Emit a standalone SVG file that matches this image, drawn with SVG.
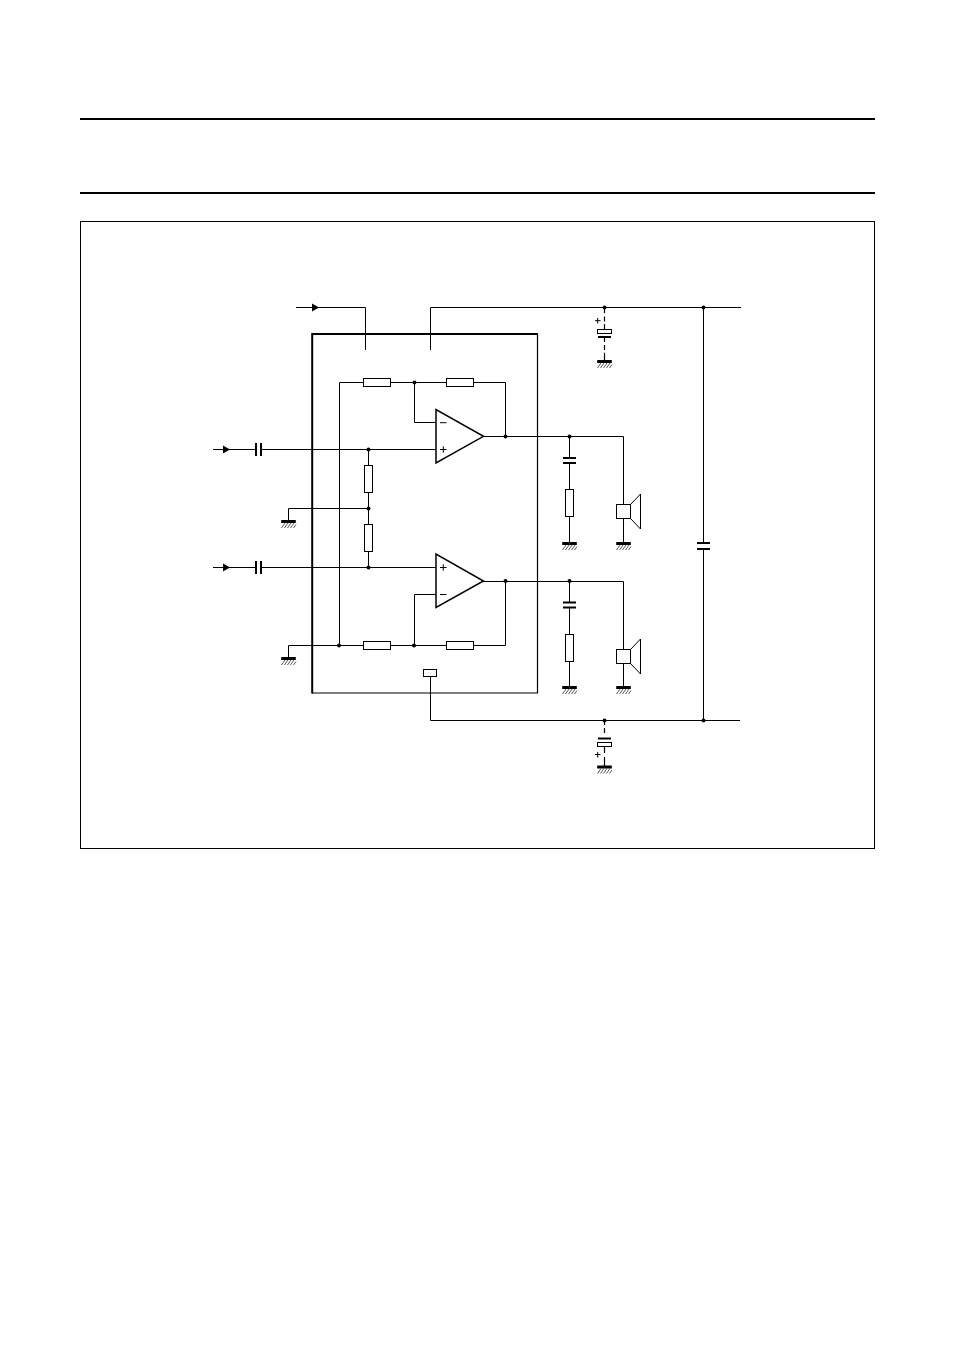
<svg xmlns="http://www.w3.org/2000/svg" width="954" height="1351" viewBox="0 0 954 1351">
<style>
.w{fill:none;stroke:#000;stroke-width:1}
.d{fill:none;stroke:#000;stroke-width:1.2}
.r{fill:#fff;stroke:#000;stroke-width:1}
.a{fill:#fff;stroke:#000;stroke-width:1.5}
.p{fill:none;stroke:#000;stroke-width:2}
.s{fill:none;stroke:#000;stroke-width:1}
</style>
<defs>
<g id="gnd"><rect x="-7.3" y="0" width="14.6" height="3" fill="#000"/><path d="M-7 8L-3.5 3M-4 8L-.5 3M-1 8L2.5 3M2 8L5.5 3M5 8L7.5 4.5" fill="none" stroke="#444" stroke-width=".9"/></g>
<path id="arr" d="M0-4L7 0L0 4Z" fill="#000"/>
<circle id="dot" r="2" fill="#000"/>
</defs>
<rect width="954" height="1351" fill="#fff"/>
<g id="page-frame">
<rect x="80" y="118" width="795" height="2" fill="#000"/>
<rect x="80" y="192" width="795" height="2" fill="#000"/>
<rect x="80.5" y="221.5" width="794" height="627" fill="none" stroke="#000" stroke-width="1"/>
</g>
<g id="ic"><path d="M537.5 334V693H312" fill="none" stroke="#000" stroke-width="1.2"/><path d="M538 334H312.2V693.6" fill="none" stroke="#000" stroke-width="2"/></g>
<g id="connectors">
<path class="w" d="M296 307.5H365.5V350M430.5 350V307.5H741M703.5 307.5V543M703.5 549V720.5M430.5 676V720.5H740"/>
<path class="w" d="M213 449.5H255M262 449.5H436M213 567.5H255M262 567.5H436"/>
<path class="w" d="M368.5 449.5V465M368.5 492V524M368.5 551V567.5M368.5 508.5H288.5V520"/>
<path class="w" d="M339.5 645.5V382.5H363M390.5 382.5H446M473.5 382.5H505.5V436.5M414.5 382.5V422.5H436"/>
<path class="w" d="M288.5 658V645.5H363M390.5 645.5H446M473.5 645.5H505.5V581.5M414.5 645.5V594.5H436"/>
<path class="w" d="M483 436.5H623.5V504M483 581.5H623.5V649"/>
<path class="w" d="M569.5 436.5V458M569.5 462V489M569.5 516V542M569.5 581.5V602M569.5 608V634M569.5 661V686"/>
<path class="w" d="M623.5 518V542M623.5 663V686"/>
<path class="d" d="M604.5 307V313M604.5 316.5V321.5M604.5 324V329.5M604.5 338V342M604.5 345V350M604.5 352.7V360"/>
<path class="d" d="M604.5 720.5V725M604.5 728V733M604.5 747V753M604.5 757V766"/>
</g>
<g id="dots">
<use href="#dot" x="604.5" y="307.5"/><use href="#dot" x="703.5" y="307.5"/>
<use href="#dot" x="414.5" y="382.5"/><use href="#dot" x="505.5" y="436.5"/><use href="#dot" x="569.5" y="436.5"/>
<use href="#dot" x="368.5" y="449.5"/><use href="#dot" x="368.5" y="508.5"/><use href="#dot" x="368.5" y="567.5"/>
<use href="#dot" x="505.5" y="581"/><use href="#dot" x="569.5" y="581"/>
<use href="#dot" x="339" y="645.5"/><use href="#dot" x="414" y="645.5"/>
<use href="#dot" x="604.5" y="720.5"/><use href="#dot" x="703.5" y="720.5"/>
</g>
<g id="arrows"><use href="#arr" x="312" y="307.5"/><use href="#arr" x="223" y="449.5"/><use href="#arr" x="223" y="567.5"/></g>
<g id="opamp1"><path class="a" d="M436 409.5V463L483.5 436.3Z"/><path class="s" d="M440 422.7H446.5M440 449.5H446.5M443.3 446.3V452.7"/></g>
<g id="opamp2"><path class="a" d="M436 554V607.5L483.5 581Z"/><path class="s" d="M440 594.5H446.5M440 567.5H446.5M443.3 564.3V570.7"/></g>
<g id="r1"><rect class="r" x="363.5" y="378.5" width="27" height="8"/></g>
<g id="r2"><rect class="r" x="446.5" y="378.5" width="27" height="8"/></g>
<g id="r3"><rect class="r" x="363.5" y="641.5" width="27" height="8"/></g>
<g id="r4"><rect class="r" x="446.5" y="641.5" width="27" height="8"/></g>
<g id="r5"><rect class="r" x="364.5" y="465.5" width="8" height="27"/></g>
<g id="r6"><rect class="r" x="364.5" y="524.5" width="8" height="27"/></g>
<g id="r7"><rect class="r" x="565.5" y="489.5" width="8" height="27"/></g>
<g id="r8"><rect class="r" x="565.5" y="634.5" width="8" height="27"/></g>
<g id="c-in1"><path class="p" d="M256 443V456M261 443V456"/></g>
<g id="c-in2"><path class="p" d="M256 561V574M261 561V574"/></g>
<g id="c-out1"><path class="p" d="M563 458H576M563 463H576"/></g>
<g id="c-out2"><path class="p" d="M563 602.5H576M563 607.5H576"/></g>
<g id="c-supply"><path class="p" d="M697 543H710M697 549H710"/></g>
<g id="c-top"><rect class="r" x="597.5" y="329.5" width="14" height="4"/><path class="p" d="M598 337H611"/><path class="s" d="M595 320.7H600.5M597.7 318V323.5"/></g>
<g id="c-bottom"><rect class="r" x="597.5" y="742.5" width="14" height="4"/><path class="p" d="M598 738.5H611"/><path class="s" d="M595 754.5H600.5M597.7 752V757.5"/></g>
<g id="spk1"><rect class="r" x="616.5" y="504.5" width="14" height="14"/><path class="w" d="M630.5 504.5L640.5 494V529L630.5 518.5"/></g>
<g id="spk2"><rect class="r" x="616.5" y="649.5" width="14" height="14"/><path class="w" d="M630.5 649.5L640.5 639V674L630.5 663.5"/></g>
<g id="pin-box"><rect class="r" x="423.5" y="669.5" width="13" height="7"/></g>
<g id="grounds">
<use href="#gnd" x="604.5" y="360"/><use href="#gnd" x="288.5" y="520"/><use href="#gnd" x="288.5" y="657"/>
<use href="#gnd" x="569.5" y="542"/><use href="#gnd" x="623.5" y="542"/>
<use href="#gnd" x="569.5" y="686"/><use href="#gnd" x="623.5" y="686"/>
<use href="#gnd" x="604.5" y="765.5"/>
</g>
</svg>
